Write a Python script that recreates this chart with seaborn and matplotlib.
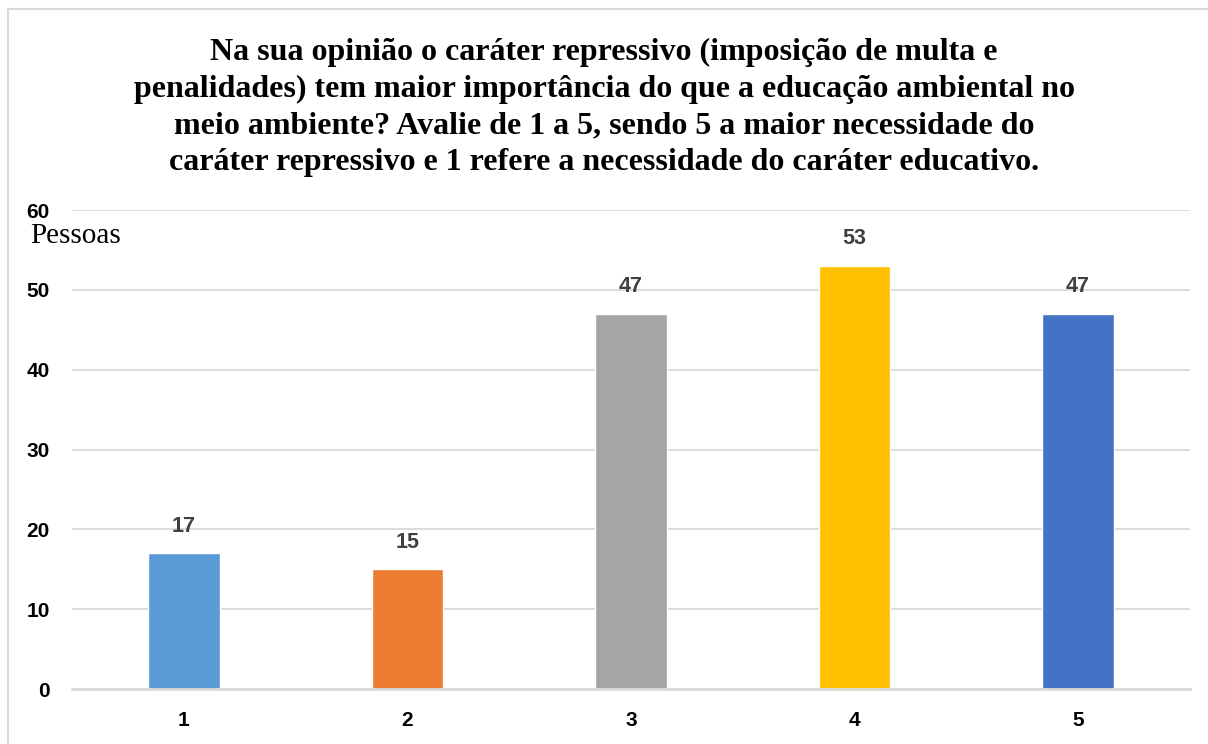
import matplotlib
matplotlib.use("Agg")
import matplotlib.pyplot as plt
import seaborn as sns
import pandas as pd

# Survey answers on a 1-5 scale and number of people for each
categories = ["1", "2", "3", "4", "5"]
counts = [17, 15, 47, 53, 47]
bar_colors = ["#5B9BD5", "#ED7D31", "#A5A5A5", "#FFC000", "#4472C4"]
y_ticks = [0, 10, 20, 30, 40, 50, 60]

title_text = ("Na sua opinião o caráter repressivo (imposição de multa e\n"
              "penalidades) tem maior importância do que a educação ambiental no\n"
              "meio ambiente? Avalie de 1 a 5, sendo 5 a maior necessidade do\n"
              "caráter repressivo e 1 refere a necessidade do caráter educativo.")
y_label = "Pessoas"

sns.set_theme(style="white")
plt.rcParams["font.family"] = ["Liberation Sans", "DejaVu Sans"]

df = pd.DataFrame({"nota": categories, "pessoas": counts})

fig = plt.figure(figsize=(12.08, 7.44), dpi=100)
ax = fig.add_axes([0.0596, 0.0739, 0.9254, 0.6438])

sns.barplot(data=df, x="nota", y="pessoas", hue="nota", palette=bar_colors,
            legend=False, width=0.32, saturation=1, ax=ax)

ax.set_ylim(0, 60)
ax.set_xlim(-0.5, len(categories) - 0.5)
ax.set_yticks(y_ticks)
ax.yaxis.grid(True, color="#D9D9D9", linewidth=1.3)
ax.set_axisbelow(True)
for side in ["top", "right", "left"]:
    ax.spines[side].set_visible(False)
ax.spines["bottom"].set_color("#D9D9D9")
ax.spines["bottom"].set_linewidth(2)
ax.tick_params(axis="both", length=0, labelsize=15, colors="#000000")
ax.tick_params(axis="y", pad=16)
ax.tick_params(axis="x", pad=16)
for lbl in ax.get_xticklabels() + ax.get_yticklabels():
    lbl.set_fontweight("bold")
ax.set_xlabel("")
ax.set_ylabel("")

# Value labels above each bar
for i, v in enumerate(counts):
    ax.annotate(str(v), (i, v), xytext=(0, 12), textcoords="offset points",
                ha="center", va="bottom", fontsize=15.5, fontweight="bold",
                color="#404040")

fig.text(0.0248, 0.683, y_label, family="Liberation Serif", fontsize=21,
         color="#000000", ha="left", va="center")

fig.text(0.5, 0.949, title_text, family="Liberation Serif", fontsize=23,
         fontweight="bold", ha="center", va="top", linespacing=1.34,
         color="#000000")

# Outer frame of the chart area
frame = plt.Rectangle((8 / 1208, -0.1), 1.2, (744 - 9) / 744 + 0.1,
                      transform=fig.transFigure, fill=False,
                      edgecolor="#D9D9D9", linewidth=1.5)
fig.patches.append(frame)

fig.savefig("out.png", dpi=100, facecolor="white")
